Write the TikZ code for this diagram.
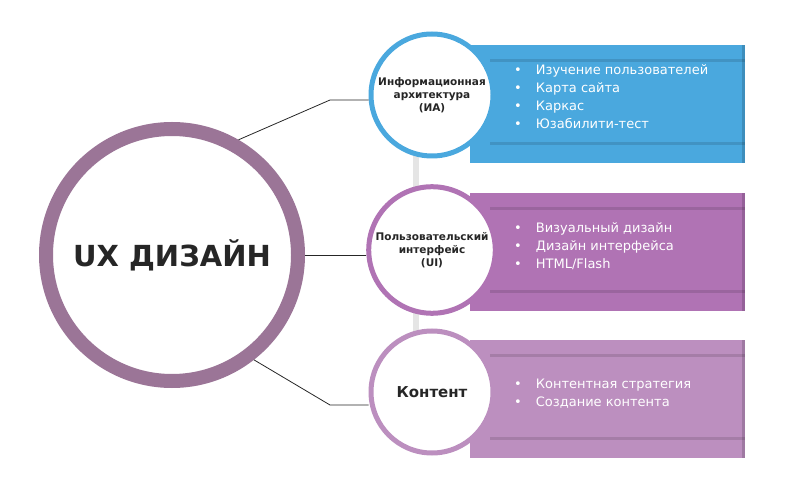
\documentclass[tikz,border=0pt]{standalone}
\usepackage{fontspec}
\setmainfont{DejaVu Sans}
\usetikzlibrary{shadings}
\definecolor{ringmain}{HTML}{9B7597}
\definecolor{iablue}{HTML}{4AA8DE}
\definecolor{uipurple}{HTML}{B073B4}
\definecolor{contpurple}{HTML}{BC8FBF}
\pgfdeclareradialshading{softglow}{\pgfpoint{0bp}{0bp}}{color(0bp)=(white); color(30bp)=(white); color(42bp)=(black!10); color(50bp)=(black!55)}
\tikzset{
  panel/.style={fill=#1},
  bubble/.style={circle, draw=#1, line width=5pt, shading=softglow, minimum size=122pt, align=center, font=\bfseries\fontsize{10.5}{13}\selectfont, text=black!85},
  items/.style={anchor=north west, text=white, align=left, font=\fontsize{13}{18}\selectfont, inner sep=0pt},
  link/.style={draw=black!85, line width=0.8pt}
}
\begin{document}
\begin{tikzpicture}[x=1pt, y=-1pt]
  \useasboundingbox (0,0) rectangle (800,502);
  % gray back rail
  \fill[black!10] (413,150) rectangle (419,350);
  % panels
  \fill[panel=iablue] (470,45) rectangle (745,163);
  \fill[panel=uipurple] (470,193) rectangle (745,311);
  \fill[panel=contpurple] (470,340) rectangle (745,458);
  \foreach \y in {45,193,340}{
    \fill[black, opacity=.12] (490,\y+14) rectangle (745,\y+17);
    \fill[black, opacity=.12] (490,\y+97) rectangle (745,\y+100);
    \fill[black, opacity=.15] (742,\y) rectangle (745,\y+118);
  }
  % main circle
  \node[circle, draw=ringmain, line width=14pt, shading=softglow, minimum size=252pt, font=\bfseries\fontsize{29}{32}\selectfont, text=black!85] (ux) at (172,255) {UX ДИЗАЙН};
  % small circles
  \node[bubble=iablue] (ia) at (432,95) {Информационная\\архитектура\\(ИА)};
  \node[bubble=uipurple] (ui) at (432,250) {Пользовательский\\интерфейс\\(UI)};
  \node[bubble=contpurple, font=\bfseries\fontsize{15}{18}\selectfont] (cont) at (432,392) {Контент};
  % connectors
  \coordinate (k1) at (330,100);
  \coordinate (k3) at (330,405);
  \draw[link] (ux.60) -- (k1) -- (k1 -| ia.west);
  \draw[link] (ux.east) -- (ui.west |- ux.east);
  \draw[link] (ux.-52) -- (k3) -- (k3 -| cont.west);
  % lists
  \node[items] (ia list) at (514,64) {•\hspace{14pt}Изучение пользователей\\•\hspace{14pt}Карта сайта\\•\hspace{14pt}Каркас\\•\hspace{14pt}Юзабилити-тест};
  \node[items] (ui list) at (514,222) {•\hspace{14pt}Визуальный дизайн\\•\hspace{14pt}Дизайн интерфейса\\•\hspace{14pt}HTML/Flash};
  \node[items] (cont list) at (514,379) {•\hspace{14pt}Контентная стратегия\\•\hspace{14pt}Создание контента};
\end{tikzpicture}
\end{document}
